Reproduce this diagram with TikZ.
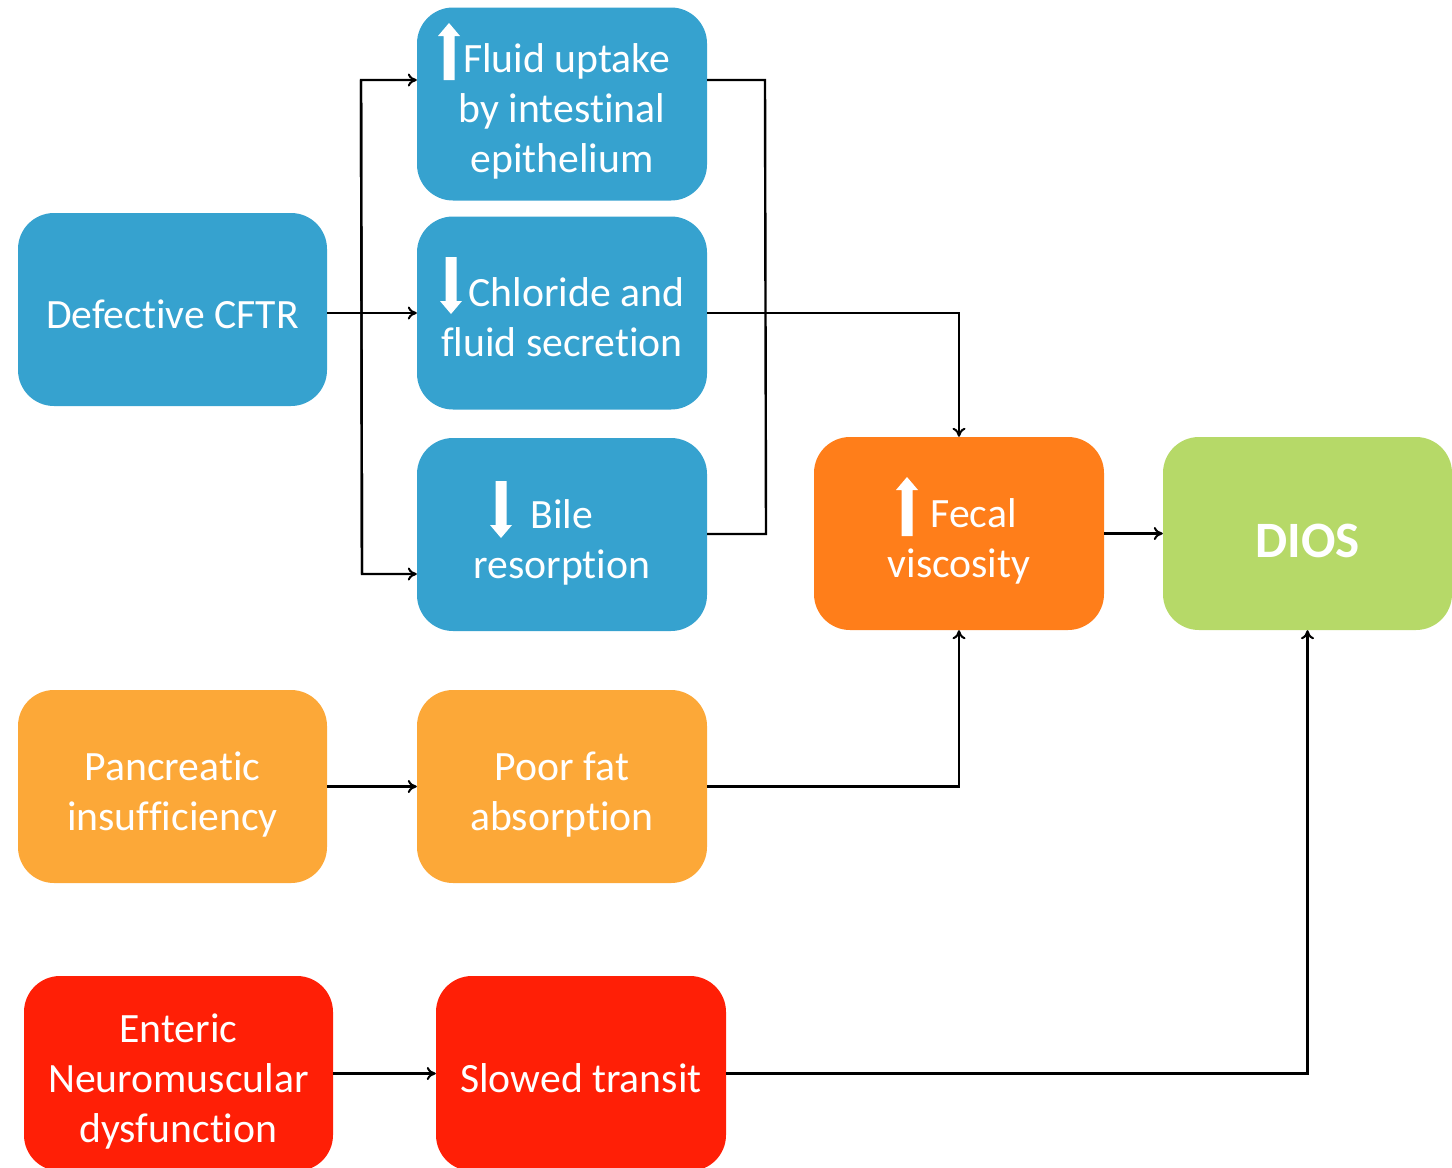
\documentclass[tikz,border=0pt]{standalone}
\usepackage{fontspec}
\setmainfont{Carlito}[Ligatures=NoCommon]
\usetikzlibrary{arrows.meta}
\definecolor{cblue}{HTML}{36A2CF}
\definecolor{corange}{HTML}{FF7E1A}
\definecolor{cgreen}{HTML}{B6D968}
\definecolor{clight}{HTML}{FCA838}
\definecolor{cred}{HTML}{FF1F06}
\newcommand\lift[1]{\rule{0pt}{#1}}
\tikzset{
  box/.style={rounded corners=36pt, minimum width=#1, minimum height=193pt, inner sep=0pt,
    text=white, align=center, font=\fontsize{41.7}{50}\selectfont},
  box/.default=290pt,
  conn/.style={line width=2.4pt, draw=black},
  arr/.style={conn, -{To[length=9pt,width=13pt,line width=2pt]}},
  uparr/.pic={\fill[white] (-5.5,#1) -- (-5.5,13) -- (-11,13) -- (0,0) -- (11,13) -- (5.5,13) -- (5.5,#1) -- cycle;},
  dnarr/.pic={\fill[white] (-5.5,0) -- (-5.5,#1-13) -- (-11,#1-13) -- (0,#1) -- (11,#1-13) -- (5.5,#1-13) -- (5.5,0) -- cycle;},
}
\begin{document}
\begin{tikzpicture}[x=1pt,y=-1pt]
\useasboundingbox (0,0) rectangle (1452,1168);
% nodes
\node[box=309pt, fill=cblue] (cftr) at (172.5,309.5) {\lift{38pt}Defective CFTR};
\node[box, fill=cblue] (fluid) at (562,104) {\lift{44pt}\hspace*{9pt}Fluid uptake\\by intestinal\\epithelium};
\node[box, fill=cblue] (chl) at (562,313) {\lift{37pt}\hspace*{29pt}Chloride and\\fluid secretion};
\node[box, fill=cblue] (bile) at (562,534.5) {\lift{44pt}Bile\\resorption};
\node[box, fill=corange] (fecal) at (959,533.5) {\lift{45pt}\hspace*{29pt}Fecal\\viscosity};
\node[box=289pt, fill=cgreen, font=\fontsize{51}{60}\selectfont\bfseries] (dios) at (1307.5,533.5) {\lift{48pt}DIOS};
\node[box=309pt, fill=clight] (panc) at (172.5,786.5) {\lift{45pt}Pancreatic\\insufficiency};
\node[box, fill=clight] (poor) at (562,786.5) {\lift{45pt}Poor fat\\absorption};
\node[box=309pt, minimum height=195pt, fill=cred] (ent) at (178.5,1073.5) {\lift{44pt}Enteric\\Neuromuscular\\dysfunction};
\node[box, minimum height=195pt, fill=cred] (slow) at (581,1073.5) {\lift{38pt}Slowed transit};
% fat arrows in text
\pic at (449,23) {uparr=57};
\pic at (451,257) {dnarr=57};
\pic at (501,481) {dnarr=57};
\pic at (907,477) {uparr=59};
% connectors
\coordinate (t1) at (361,80);
\coordinate (t2) at (362,574);
\coordinate (b1) at (765,80);
\coordinate (b2) at (766,534);
\draw[arr] (cftr.east |- chl.west) -- (chl.west);
\draw[arr] (t2) -- (t1) -- (t1 -| fluid.west);
\draw[arr] (t1) -- (t2) -- (t2 -| bile.west);
\draw[conn] (b1 -| fluid.east) -- (b1) -- (b2) -- (b2 -| bile.east);
\draw[arr] (chl.east) -| (fecal.north);
\draw[arr] (fecal.east) -- (dios.west);
\draw[arr] (panc.east) -- (poor.west);
\draw[arr] (poor.east) -| (fecal.south);
\draw[arr] (ent.east) -- (slow.west);
\draw[arr] (slow.east) -| (dios.south);
\end{tikzpicture}
\end{document}
